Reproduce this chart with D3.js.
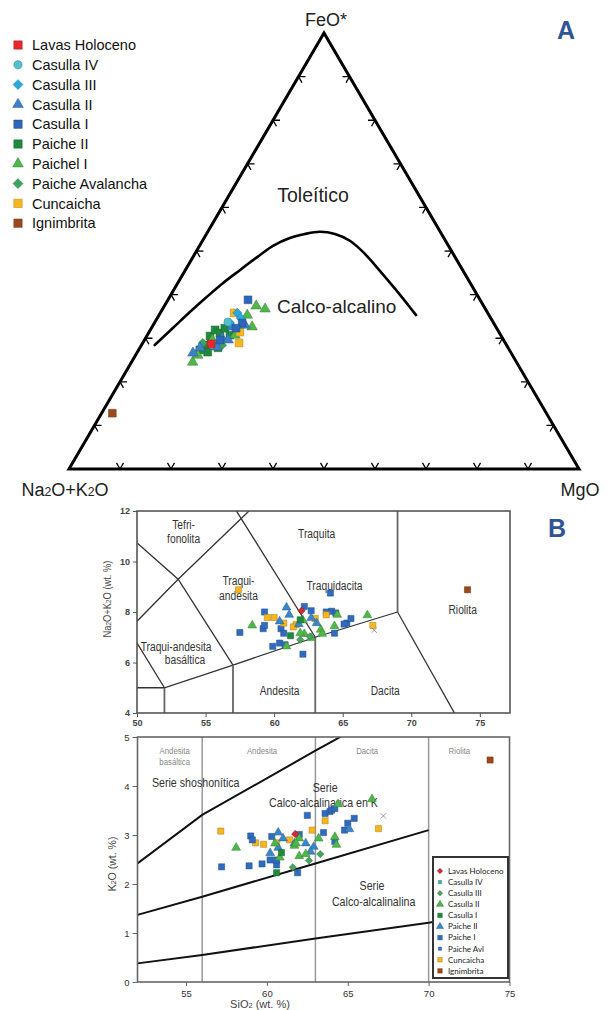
<!DOCTYPE html>
<html>
<head>
<meta charset="utf-8">
<script src="https://cdn.jsdelivr.net/npm/d3@7"></script>
<style>
  body { margin: 0; background: #fff; }
  svg { display: block; font-family: "Liberation Sans", Arial, sans-serif; }
</style>
</head>
<body>
<svg id="fig" width="612" height="1010"></svg>
<script>
// ---------- panel A: AFM ternary, values in % (Na2O+K2O, FeO*, MgO) ----------
const afmSeries = ["Lavas Holoceno", "Casulla IV", "Casulla III", "Casulla II", "Casulla I",
  "Paiche II", "Paichel I", "Paiche Avalancha", "Cuncaicha", "Ignimbrita"];
const afmTicks = [10, 20, 30, 40, 50, 60, 70, 80, 90];
const afmBoundary = [
  [68.9, 28.4, 2.6], [63.4, 32.3, 4.2], [58.3, 36.0, 5.7], [53.2, 39.5, 7.3], [48.5, 42.7, 8.9],
  [43.7, 45.6, 10.7], [38.8, 48.6, 12.6], [34.4, 51.2, 14.4], [30.2, 53.0, 16.8], [26.8, 53.9, 19.3],
  [23.6, 54.4, 22.0], [20.9, 53.9, 25.2], [18.7, 52.3, 29.0], [17.3, 49.3, 33.4], [16.3, 45.4, 38.3],
  [15.4, 41.3, 43.3], [14.7, 37.6, 47.7], [14.3, 35.3, 50.4]
];
const afmPoints = [
  ["Paiche II", 59.1, 28.4, 12.5], ["Paiche II", 57.1, 30.5, 12.4], ["Paiche II", 55.4, 31.9, 12.7],
  ["Paiche II", 54.8, 31.2, 14.0], ["Paiche II", 59.4, 26.8, 13.8], ["Paiche II", 53.3, 32.3, 14.4],
  ["Paiche II", 60.7, 27.3, 12.0], ["Paiche II", 56.9, 27.8, 15.3], ["Paiche II", 53.1, 30.7, 16.2],
  ["Paiche Avalancha", 59.3, 28.9, 11.8], ["Paiche Avalancha", 55.8, 28.4, 15.8],
  ["Paichel I", 44.6, 37.4, 18.0], ["Paichel I", 43.2, 36.7, 20.1], ["Paichel I", 47.8, 32.6, 19.6],
  ["Paichel I", 63.5, 24.5, 12.0], ["Paichel I", 47.4, 35.3, 17.3], ["Paichel I", 52.1, 30.7, 17.2],
  ["Paichel I", 57.1, 29.6, 13.3], ["Paichel I", 61.7, 26.1, 12.2],
  ["Cuncaicha", 52.2, 28.9, 18.9], ["Cuncaicha", 50.8, 31.4, 17.8], ["Cuncaicha", 49.7, 35.8, 14.5],
  ["Casulla II", 51.7, 32.6, 15.7], ["Casulla II", 55.0, 30.0, 15.0], ["Casulla II", 57.0, 28.0, 15.0],
  ["Casulla II", 60.4, 27.8, 11.8], ["Casulla II", 62.4, 26.6, 11.0], ["Casulla II", 49.0, 33.0, 18.0],
  ["Casulla II", 54.0, 29.6, 16.4],
  ["Casulla III", 49.1, 35.8, 15.1], ["Casulla III", 51.7, 33.5, 14.8], ["Casulla III", 49.0, 34.6, 16.4],
  ["Casulla IV", 52.0, 33.7, 14.3],
  ["Casulla I", 45.5, 38.8, 15.7], ["Casulla I", 49.3, 33.5, 17.2], ["Casulla I", 51.1, 32.3, 16.6],
  ["Casulla I", 55.6, 29.6, 14.8],
  ["Lavas Holoceno", 57.8, 28.7, 13.5],
  ["Ignimbrita", 85.1, 12.8, 2.1]
];

// ---------- panel B: TAS and K2O vs SiO2 ----------
const bSeries = ["Lavas Holoceno", "Casulla IV", "Casulla III", "Casulla II", "Casulla I",
  "Paiche II", "Paiche I", "Paiche Avl", "Cuncaicha", "Ignimbrita"];
const tasXTicks = [50, 55, 60, 65, 70, 75];
const tasYTicks = [4, 6, 8, 10, 12];
const tasLines = [
  [[45, 5], [52, 5], [57, 5.9], [63, 7], [69, 8]],
  [[52, 0], [52, 5]],
  [[57, 0], [57, 5.9]],
  [[63, 0], [63, 7]],
  [[69, 8], [69, 13]],
  [[69, 8], [77.3, 0]],
  [[45, 5], [49.4, 7.3], [52, 5]],
  [[49.4, 7.3], [53, 9.3], [57.6, 11.7], [61, 13.5]],
  [[48.4, 11.5], [53, 9.3], [57, 5.9]],
  [[63, 7], [57.6, 11.7], [56.9, 12.3]]
];
const tasLabels = [
  ["Tefri-", 53.4, 11.47], ["fonolita", 53.4, 10.92], ["Traquita", 63.1, 11.12],
  ["Traqui-", 57.4, 9.23], ["andesita", 57.4, 8.63], ["Traquidacita", 64.4, 9.03],
  ["Riolita", 73.75, 8.11], ["Traqui-andesita", 52.85, 6.63], ["basáltica", 53.5, 6.10],
  ["Andesita", 60.4, 4.87], ["Dacita", 68.1, 4.87]
];
const tasPoints = [
  ["Paiche I", 64.1, 8.75], ["Paiche I", 59.3, 8.0], ["Paiche I", 62.2, 8.22], ["Paiche I", 62.7, 8.05],
  ["Paiche I", 63.8, 8.0], ["Paiche I", 64.2, 8.03], ["Paiche I", 64.5, 7.96], ["Paiche I", 65.3, 7.56],
  ["Paiche I", 65.6, 7.74], ["Paiche I", 65.1, 7.52], ["Paiche I", 57.5, 7.19], ["Paiche I", 59.2, 7.34],
  ["Paiche I", 59.3, 7.47], ["Paiche I", 60.5, 7.34], ["Paiche I", 60.7, 7.16], ["Paiche I", 64.4, 7.16],
  ["Paiche I", 59.9, 6.64], ["Paiche I", 60.4, 6.77], ["Paiche I", 60.8, 6.70], ["Paiche I", 62.1, 6.33],
  ["Cuncaicha", 57.4, 8.88], ["Cuncaicha", 59.5, 7.78], ["Cuncaicha", 60.0, 7.78], ["Cuncaicha", 60.7, 7.56],
  ["Cuncaicha", 61.6, 7.50], ["Cuncaicha", 61.4, 7.41], ["Cuncaicha", 63.0, 7.74], ["Cuncaicha", 63.8, 7.89],
  ["Cuncaicha", 67.2, 7.47],
  ["Casulla II", 58.4, 7.47], ["Casulla II", 60.9, 6.64], ["Casulla II", 62.1, 7.67], ["Casulla II", 62.2, 7.13],
  ["Casulla II", 62.7, 6.97], ["Casulla II", 63.4, 7.30], ["Casulla II", 63.5, 7.14], ["Casulla II", 64.4, 7.44],
  ["Casulla II", 64.6, 7.89], ["Casulla II", 66.8, 7.87], ["Casulla II", 61.9, 7.16],
  ["Paiche II", 60.9, 8.18], ["Paiche II", 61.1, 7.89], ["Paiche II", 60.4, 7.63], ["Paiche II", 61.8, 7.52],
  ["Paiche II", 62.7, 7.76], ["Paiche II", 63.1, 7.56],
  ["Casulla I", 61.2, 7.06], ["Casulla I", 61.9, 7.69],
  ["Casulla III", 61.9, 6.90], ["Casulla III", 62.6, 7.03],
  ["Lavas Holoceno", 62.0, 8.05],
  ["Ignimbrita", 74.1, 8.88],
  ["otro", 67.3, 7.28]
];

const k2oXTicks = [55, 60, 65, 70, 75];
const k2oYTicks = [0, 1, 2, 3, 4, 5];
const k2oDividers = [56, 63, 70];
const k2oLines = [
  [[52, 2.42], [56, 3.41], [63, 4.72], [70, 6.0]],
  [[52, 1.37], [56, 1.74], [63, 2.42], [70, 3.1]],
  [[52, 0.38], [56, 0.55], [63, 0.89], [70, 1.21], [75, 1.5]]
];
const k2oTopLabels = [
  ["Andesita", 54.3, 4.73], ["basáltica", 54.3, 4.49], ["Andesita", 59.7, 4.73],
  ["Dacita", 66.2, 4.73], ["Riolita", 71.9, 4.73]
];
const k2oLabels = [
  ["Serie shoshonítica", 55.6, 4.08], ["Serie", 63.6, 3.98], ["Calco-alcalinarica en K", 63.5, 3.67],
  ["Serie", 66.5, 1.98], ["Calco-alcalinalina", 66.6, 1.65]
];
const k2oPoints = [
  ["Cuncaicha", 57.15, 3.08], ["Cuncaicha", 59.3, 2.84], ["Cuncaicha", 59.8, 2.81], ["Cuncaicha", 60.6, 2.84],
  ["Cuncaicha", 61.4, 2.90], ["Cuncaicha", 62.8, 3.10], ["Cuncaicha", 63.6, 3.29], ["Cuncaicha", 66.9, 3.13],
  ["Paiche I", 57.2, 2.35], ["Paiche I", 58.9, 2.37], ["Paiche I", 59.7, 2.41], ["Paiche I", 60.6, 2.39],
  ["Paiche I", 60.6, 2.49], ["Paiche I", 60.2, 2.49], ["Paiche I", 60.3, 2.97], ["Paiche I", 59.0, 2.98],
  ["Paiche I", 59.1, 2.90], ["Paiche I", 61.9, 2.23], ["Paiche I", 62.0, 3.01], ["Paiche I", 62.5, 3.40],
  ["Paiche I", 63.5, 3.05], ["Paiche I", 63.6, 3.44], ["Paiche I", 63.9, 3.48], ["Paiche I", 64.0, 3.51],
  ["Paiche I", 64.2, 3.54], ["Paiche I", 64.8, 3.10], ["Paiche I", 65.0, 3.24], ["Paiche I", 65.4, 3.34],
  ["Paiche I", 64.2, 2.87],
  ["Paiche II", 60.7, 3.05], ["Paiche II", 60.7, 2.74], ["Paiche II", 60.2, 2.63], ["Paiche II", 61.0, 2.93],
  ["Paiche II", 61.7, 2.83], ["Paiche II", 62.4, 2.83], ["Paiche II", 62.9, 2.76], ["Paiche II", 62.7, 2.66],
  ["Paiche II", 65.1, 3.12],
  ["Casulla II", 58.1, 2.74], ["Casulla II", 60.5, 2.83], ["Casulla II", 60.8, 2.54], ["Casulla II", 61.7, 2.78],
  ["Casulla II", 62.0, 2.93], ["Casulla II", 62.0, 2.57], ["Casulla II", 62.4, 2.61], ["Casulla II", 63.2, 2.93],
  ["Casulla II", 64.2, 2.96], ["Casulla II", 64.3, 2.80], ["Casulla II", 64.4, 3.63], ["Casulla II", 66.5, 3.73],
  ["Casulla II", 61.8, 2.83],
  ["Casulla I", 60.6, 2.23], ["Casulla I", 60.9, 2.64],
  ["Casulla III", 61.6, 2.34], ["Casulla III", 62.6, 2.48], ["Casulla III", 63.3, 2.61],
  ["Lavas Holoceno", 61.75, 3.02],
  ["Ignimbrita", 73.8, 4.53],
  ["otro", 67.2, 3.39]
];

// marker styles
const styleA = {
  "Lavas Holoceno": ["square", "#e8262c"], "Casulla IV": ["circle", "#52c0cf"],
  "Casulla III": ["diamond", "#28a9e0"], "Casulla II": ["triangle", "#3d80c9"],
  "Casulla I": ["square", "#2e67b9"], "Paiche II": ["square", "#1f8a3e"],
  "Paichel I": ["triangle", "#4fb848"], "Paiche Avalancha": ["diamond", "#3aa55f"],
  "Cuncaicha": ["square", "#f9b61d"], "Ignimbrita": ["square", "#9b4a1c"]
};
const styleB = {
  "Lavas Holoceno": ["diamond", "#d42a2f"], "Casulla IV": ["square", "#3db39a"],
  "Casulla III": ["diamond", "#4aa55c"], "Casulla II": ["triangle", "#4db848"],
  "Casulla I": ["square", "#1e8a3c"], "Paiche II": ["triangle", "#3a87c8"],
  "Paiche I": ["square", "#2f6cc0"], "Paiche Avl": ["square", "#3b6fd0"],
  "Cuncaicha": ["square", "#f7b520"], "Ignimbrita": ["square", "#9c4a1a"],
  "otro": ["x", "#888"]
};
const symbols = { square: d3.symbolSquare, circle: d3.symbolCircle, triangle: d3.symbolTriangle,
  diamond: d3.symbolSquare, x: d3.symbolX };

function mark(g, style, size, x, y) {
  const [shape, color] = style;
  const p = g.append("path")
    .attr("d", d3.symbol().type(symbols[shape]).size(shape === "diamond" ? size * 0.7 : size)())
    .attr("transform", `translate(${x},${y})` + (shape === "diamond" ? " rotate(45)" : ""));
  if (shape === "x") p.attr("fill", "none").attr("stroke", color).attr("stroke-width", 0.8);
  else p.attr("fill", color).attr("stroke", d3.color(color).darker(1)).attr("stroke-width", 0.5);
}

function subText(sel, parts) {
  parts.forEach(([t, sub]) => {
    const s = sel.append("tspan").text(t);
    if (sub) s.attr("font-size", "0.68em");
  });
}

// condensed label (no narrow font installed: squeeze horizontally)
function narrow(g, t, x, y, size, fill) {
  return g.append("text").attr("transform", `translate(${x},${y}) scale(0.82,1)`)
    .attr("dy", "0.35em").attr("text-anchor", "middle")
    .attr("font-size", size).attr("fill", fill).text(t);
}

const svg = d3.select("#fig");

// ================= A =================
const gA = svg.append("g");
const V = { A: [69, 469], F: [324, 33], M: [579, 469] };
const fy = d3.scaleLinear().domain([0, 100]).range([V.A[1], V.F[1]]);
const fx = d3.scaleLinear().domain([0, 100]).range([0, V.F[0] - V.A[0]]);
const mx = d3.scaleLinear().domain([0, 100]).range([0, V.M[0] - V.A[0]]);
function tern(a, f, m) {
  const s = a + f + m;
  return [V.A[0] + fx(f * 100 / s) + mx(m * 100 / s), fy(f * 100 / s)];
}
const tri = [tern(100, 0, 0), tern(0, 100, 0), tern(0, 0, 100)];
gA.append("path").attr("d", d3.line()(tri) + "Z")
  .attr("fill", "none").attr("stroke", "#000").attr("stroke-width", 3).attr("stroke-linejoin", "miter");

const cen = [d3.mean(tri, d => d[0]), d3.mean(tri, d => d[1])];
[[0, 1], [1, 2], [2, 0]].forEach(([i, j]) => {
  const p = tri[i], q = tri[j];
  const dx = q[0] - p[0], dy = q[1] - p[1], L = Math.hypot(dx, dy);
  let nx = -dy / L, ny = dx / L;
  if ((cen[0] - (p[0] + dx / 2)) * nx + (cen[1] - (p[1] + dy / 2)) * ny < 0) { nx = -nx; ny = -ny; }
  afmTicks.forEach(t => {
    const x = p[0] + dx * t / 100, y = p[1] + dy * t / 100;
    const arms = [30, -30].map(a => {
      const r = a * Math.PI / 180;
      return [x + 7 * (nx * Math.cos(r) - ny * Math.sin(r)), y + 7 * (nx * Math.sin(r) + ny * Math.cos(r))];
    });
    gA.append("path").attr("d", d3.line()([arms[0], [x, y], arms[1]]))
      .attr("fill", "none").attr("stroke", "#000").attr("stroke-width", 1.3);
  });
});

gA.append("path")
  .attr("d", d3.line().curve(d3.curveCatmullRom).x(d => tern(...d)[0]).y(d => tern(...d)[1])(afmBoundary))
  .attr("fill", "none").attr("stroke", "#000").attr("stroke-width", 2.6).attr("stroke-linecap", "round");

gA.append("text").attr("x", 326).attr("y", 26).attr("text-anchor", "middle")
  .attr("font-size", 18).attr("fill", "#222").text("FeO*");
const na = gA.append("text").attr("x", 65).attr("y", 496).attr("text-anchor", "middle")
  .attr("font-size", 18).attr("fill", "#222");
subText(na, [["Na"], ["2", 1], ["O+K"], ["2", 1], ["O"]]);
gA.append("text").attr("x", 580).attr("y", 496).attr("text-anchor", "middle")
  .attr("font-size", 18).attr("fill", "#222").text("MgO");
gA.append("text").attr("x", 313).attr("y", 202).attr("text-anchor", "middle")
  .attr("font-size", 19.5).attr("fill", "#222").text("Toleítico");
gA.append("text").attr("x", 277).attr("y", 313)
  .attr("font-size", 19).attr("fill", "#222").text("Calco-alcalino");

afmPoints.forEach(([s, a, f, m]) => {
  const [x, y] = tern(a, f, m);
  const sz = styleA[s][0] === "triangle" ? 48 : styleA[s][0] === "circle" ? 50 : 60;
  mark(gA, styleA[s], sz, x, y);
});

afmSeries.forEach((s, i) => {
  const y = 45 + i * 19.8;
  const sz = styleA[s][0] === "triangle" ? 50 : styleA[s][0] === "circle" ? 55 : 70;
  mark(gA, styleA[s], sz, 18, y);
  gA.append("text").attr("x", 32).attr("y", y).attr("dy", "0.36em")
    .attr("font-size", 14.5).attr("fill", "#111").text(s);
});

svg.append("text").attr("x", 566).attr("y", 39).attr("text-anchor", "middle")
  .attr("font-size", 25).attr("font-weight", "bold").attr("fill", "#2f5597").text("A");
svg.append("text").attr("x", 557).attr("y", 537).attr("text-anchor", "middle")
  .attr("font-size", 25).attr("font-weight", "bold").attr("fill", "#2f5597").text("B");

// ================= B: TAS =================
const gT = svg.append("g");
const xT = d3.scaleLinear().domain([50, 77.2]).range([137, 510]);
const yT = d3.scaleLinear().domain([4, 12]).range([713, 511]);
svg.append("clipPath").attr("id", "clipT").append("rect")
  .attr("x", 137).attr("y", 511).attr("width", 373).attr("height", 202);
const lineT = d3.line().x(d => xT(d[0])).y(d => yT(d[1]));
const gTL = gT.append("g").attr("clip-path", "url(#clipT)");
tasLines.forEach(l => {
  const vertical = l[0][0] === l[1][0] && l.length === 2;
  gTL.append("path").attr("d", lineT(l)).attr("fill", "none")
    .attr("stroke", vertical ? "#666" : "#333").attr("stroke-width", vertical ? 1.8 : 1.3);
});
gT.append("rect").attr("x", 137).attr("y", 511).attr("width", 373).attr("height", 202)
  .attr("fill", "none").attr("stroke", "#555").attr("stroke-width", 1.6);

const axT1 = gT.append("g").attr("transform", "translate(0,713)")
  .call(d3.axisBottom(xT).tickValues(tasXTicks).tickSize(4).tickPadding(3));
const axT2 = gT.append("g").attr("transform", "translate(137,0)")
  .call(d3.axisLeft(yT).tickValues(tasYTicks).tickSize(4).tickPadding(3));
[axT1, axT2].forEach(a => {
  a.select(".domain").remove();
  a.selectAll("line").attr("stroke", "#555");
  a.selectAll("text").attr("font-size", 9).attr("font-weight", "bold").attr("fill", "#444");
});
const tyl = gT.append("text").attr("transform", "translate(111,599) rotate(-90) scale(0.85,1)")
  .attr("text-anchor", "middle").attr("font-size", 11).attr("fill", "#444");
subText(tyl, [["Na"], ["2", 1], ["O+K"], ["2", 1], ["O (wt. %)"]]);

tasLabels.forEach(([t, x, y]) => narrow(gT, t, xT(x), yT(y), 12.5, "#333"));
tasPoints.forEach(([s, x, y]) => {
  const sh = styleB[s][0];
  mark(gT, styleB[s], sh === "triangle" ? 34 : sh === "x" ? 20 : 38, xT(x), yT(y));
});

// ================= B: K2O =================
const gK = svg.append("g");
const xK = d3.scaleLinear().domain([52, 75]).range([137.5, 509.5]);
const yK = d3.scaleLinear().domain([0, 5]).range([982, 737]);
svg.append("clipPath").attr("id", "clipK").append("rect")
  .attr("x", 137.5).attr("y", 737).attr("width", 372).attr("height", 245);
const lineK = d3.line().x(d => xK(d[0])).y(d => yK(d[1]));
const gKL = gK.append("g").attr("clip-path", "url(#clipK)");
k2oDividers.forEach(v => {
  gKL.append("line").attr("x1", xK(v)).attr("x2", xK(v)).attr("y1", yK(0)).attr("y2", yK(5))
    .attr("stroke", "#999").attr("stroke-width", 1.5);
});
k2oLines.forEach(l => {
  gKL.append("path").attr("d", lineK(l)).attr("fill", "none").attr("stroke", "#111").attr("stroke-width", 2);
});
gK.append("rect").attr("x", 137.5).attr("y", 737).attr("width", 372).attr("height", 245)
  .attr("fill", "none").attr("stroke", "#666").attr("stroke-width", 1.6);

const axK1 = gK.append("g").attr("transform", "translate(0,982)")
  .call(d3.axisBottom(xK).tickValues(k2oXTicks).tickSize(4).tickPadding(4));
const axK2 = gK.append("g").attr("transform", "translate(137.5,0)")
  .call(d3.axisLeft(yK).tickValues(k2oYTicks).tickFormat(d3.format("d")).tickSize(5).tickPadding(3));
[axK1, axK2].forEach(a => {
  a.select(".domain").remove();
  a.selectAll("line").attr("stroke", "#666");
  a.selectAll("text").attr("font-size", 9.5).attr("fill", "#333");
});
const kyl = gK.append("text").attr("transform", "translate(116,864) rotate(-90)")
  .attr("text-anchor", "middle").attr("font-size", 10.5).attr("fill", "#444");
subText(kyl, [["K"], ["2", 1], ["O (wt. %)"]]);
const kxl = gK.append("text").attr("x", 260).attr("y", 1008)
  .attr("text-anchor", "middle").attr("font-size", 11).attr("fill", "#444");
subText(kxl, [["SiO"], ["2", 1], [" (wt. %)"]]);

k2oTopLabels.forEach(([t, x, y]) => narrow(gK, t, xK(x), yK(y), 9.5, "#888"));
k2oLabels.forEach(([t, x, y]) => narrow(gK, t, xK(x), yK(y), 13, "#333"));
k2oPoints.forEach(([s, x, y]) => {
  const sh = styleB[s][0];
  mark(gK, styleB[s], sh === "triangle" ? 34 : sh === "x" ? 20 : 38, xK(x), yK(y));
});

// legend B
const lg = gK.append("g");
lg.append("rect").attr("x", 433).attr("y", 857).attr("width", 75).attr("height", 121)
  .attr("fill", "#fff").attr("stroke", "#333").attr("stroke-width", 2);
bSeries.forEach((s, i) => {
  const y = 871 + i * 11.1;
  const sh = styleB[s][0];
  const small = s === "Casulla IV" || s === "Paiche Avl";
  mark(lg, styleB[s], small ? 10 : sh === "triangle" ? 22 : 20, 440, y);
  lg.append("text").attr("x", 448).attr("y", y).attr("dy", "0.35em")
    .attr("font-family", "Lato, sans-serif").attr("font-size", 8).attr("fill", "#222").text(s);
});
</script>
</body>
</html>
